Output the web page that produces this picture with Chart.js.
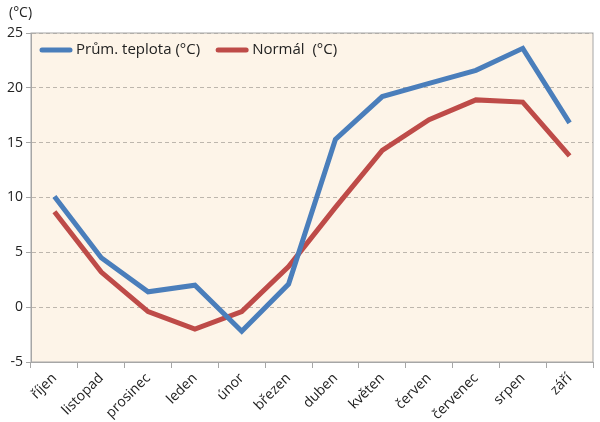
<!DOCTYPE html>
<html>
<head>
<meta charset="utf-8">
<script src="https://cdn.jsdelivr.net/npm/chart.js@4/dist/chart.umd.min.js"></script>
<style>
  html, body { margin: 0; padding: 0; background: #fff; }
  #wrap { width: 600px; height: 422px; }
</style>
</head>
<body>
<div id="wrap"><canvas id="tempChart"></canvas></div>
<script>
const months = ['říjen', 'listopad', 'prosinec', 'leden', 'únor', 'březen', 'duben', 'květen', 'červen', 'červenec', 'srpen', 'září'];
const avgTemp = [10.1, 4.5, 1.4, 2.0, -2.2, 2.1, 15.3, 19.2, 20.4, 21.6, 23.6, 16.8];
const normalTemp = [8.7, 3.2, -0.4, -2.0, -0.4, 3.7, 9.1, 14.3, 17.1, 18.9, 18.7, 13.8];

const font = "'Open Sans', 'Noto Sans', sans-serif";

// plot background, frame, legend inside the plot and unit label
const frame = {
  id: 'frame',
  beforeDraw(chart) {
    const a = chart.chartArea, c = chart.ctx;
    c.save();
    c.fillStyle = '#fdf4e8';
    c.fillRect(a.left, a.top, a.right - a.left, a.bottom - a.top);
    c.restore();
  },
  afterDraw(chart) {
    const a = chart.chartArea, c = chart.ctx;
    c.save();
    c.strokeStyle = '#a6a6a6';
    c.lineWidth = 1;
    c.strokeRect(a.left, a.top, a.right - a.left, a.bottom - a.top);
    c.fillStyle = '#222';
    c.font = '14px ' + font;
    c.textBaseline = 'middle';
    c.fillText('(°C)', 9, 13);

    // legend
    c.font = '15px ' + font;
    let x = a.left + 11;
    const y = a.top + 17;
    chart.data.datasets.forEach(ds => {
      c.strokeStyle = ds.borderColor;
      c.lineWidth = 5;
      c.lineCap = 'round';
      c.beginPath();
      c.moveTo(x, y);
      c.lineTo(x + 28, y);
      c.stroke();
      c.fillStyle = '#222';
      c.fillText(ds.label, x + 34, y);
      x += 34 + c.measureText(ds.label).width + 18;
    });
    c.restore();
  }
};

new Chart(document.getElementById('tempChart').getContext('2d'), {
  type: 'line',
  data: {
    labels: months,
    datasets: [{
      label: 'Prům. teplota (°C)',
      data: avgTemp,
      borderColor: '#4a7ebb',
      backgroundColor: '#4a7ebb',
      borderWidth: 5,
      pointRadius: 0,
      tension: 0
    }, {
      label: 'Normál  (°C)',
      data: normalTemp,
      borderColor: '#be4b48',
      backgroundColor: '#be4b48',
      borderWidth: 5,
      pointRadius: 0,
      tension: 0
    }]
  },
  options: {
    responsive: true,
    maintainAspectRatio: false,
    animation: false,
    layout: { padding: { top: 33, right: 7, left: 0, bottom: 0 } },
    plugins: {
      legend: { display: false },
      tooltip: { enabled: false }
    },
    scales: {
      y: {
        min: -5,
        max: 25,
        ticks: { stepSize: 5, color: '#222', font: { family: font, size: 14 }, padding: 3 },
        grid: { color: '#bdb6ad', tickColor: '#a6a6a6', tickLength: 5 },
        border: { color: '#a6a6a6', dash: [4, 3] },
        afterFit(s) { s.width = 31; }
      },
      x: {
        offset: true,
        ticks: { color: '#222', font: { family: font, size: 14 }, minRotation: 45, maxRotation: 45, padding: 2 },
        grid: { offset: true, drawOnChartArea: false, tickColor: '#a6a6a6', tickLength: 6 },
        border: { color: '#a6a6a6' },
        afterFit(s) { s.height = 60; }
      }
    }
  },
  plugins: [frame]
});
</script>
</body>
</html>
